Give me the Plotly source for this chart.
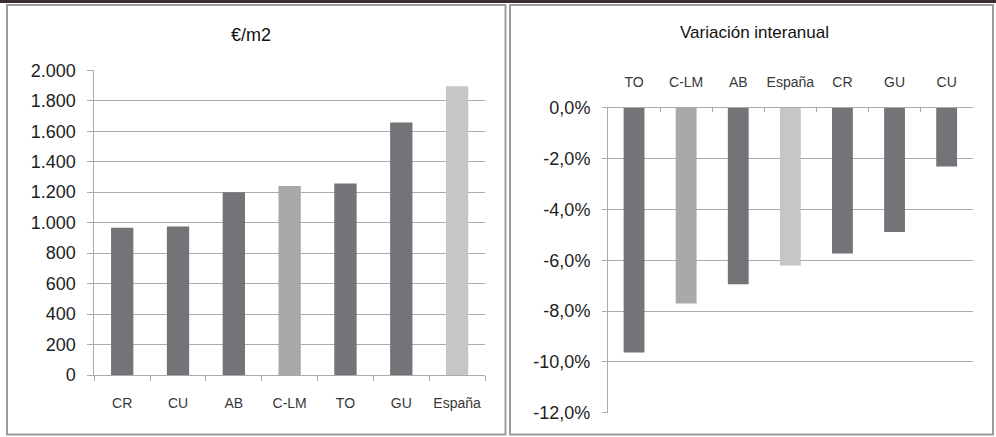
import plotly.graph_objects as go

# --- data ---
price_cats = ["CR", "CU", "AB", "C-LM", "TO", "GU", "España"]
price_vals = [967, 975, 1200, 1241, 1257, 1657, 1895]

var_cats = ["TO", "C-LM", "AB", "España", "CR", "GU", "CU"]
var_vals = [-9.63, -7.70, -6.95, -6.21, -5.74, -4.89, -2.31]  # percent

price_ticks = [0, 200, 400, 600, 800, 1000, 1200, 1400, 1600, 1800, 2000]
price_ticktext = ["0", "200", "400", "600", "800", "1.000", "1.200",
                  "1.400", "1.600", "1.800", "2.000"]
var_ticks = [0, -2, -4, -6, -8, -10, -12]
var_ticktext = ["0,0%", "-2,0%", "-4,0%", "-6,0%", "-8,0%", "-10,0%", "-12,0%"]

# colours: provinces dark, region mid grey, Spain light grey
DARK, MID, LIGHT = "#737378", "#a9a9ab", "#c6c6c6"
def bar_color(name):
    return {"C-LM": MID, "España": LIGHT}.get(name, DARK)

W, H = 996, 437
def px_x(x):
    return x / W
def px_y(y):
    return 1 - y / H

FONT = "Liberation Sans, Arial, sans-serif"
GRID = "#aaaaaa"

fig = go.Figure()
fig.add_trace(go.Bar(x=price_cats, y=price_vals,
                     marker=dict(color=[bar_color(c) for c in price_cats], line_width=0),
                     xaxis="x", yaxis="y", showlegend=False))
fig.add_trace(go.Bar(x=var_cats, y=var_vals,
                     marker=dict(color=[bar_color(c) for c in var_cats], line_width=0),
                     xaxis="x2", yaxis="y2", showlegend=False))

common_x = dict(showline=True, linecolor=GRID, linewidth=1, tickcolor=GRID,
                tickson="boundaries", tickangle=0, automargin=False,
                tickfont=dict(size=14, color="#383838"), showgrid=False)
common_y = dict(showline=True, linecolor=GRID, linewidth=1, ticks="outside",
                tickcolor=GRID, showgrid=True, gridcolor=GRID, gridwidth=1,
                zeroline=False, automargin=False,
                tickfont=dict(size=18, color="#1e1e1e"))

fig.update_layout(
    width=W, height=H,
    margin=dict(l=0, r=0, t=0, b=0, autoexpand=False),
    paper_bgcolor="white", plot_bgcolor="white",
    bargap=0.6,
    font=dict(family=FONT, color="#222"),
    xaxis=dict(domain=[px_x(94.3), px_x(485)], anchor="y",
               ticks="outside", ticklen=5, ticklabelstandoff=15, **common_x),
    yaxis=dict(domain=[px_y(375), px_y(70.3)], anchor="x", range=[0, 2000],
               tickvals=price_ticks, ticktext=price_ticktext,
               ticklen=6, ticklabelstandoff=8, **common_y),
    xaxis2=dict(domain=[px_x(608), px_x(972.7)], anchor="y2", side="top",
                ticks="inside", ticklen=4, ticklabelstandoff=14, **common_x),
    yaxis2=dict(domain=[px_y(412.7), px_y(107.7)], anchor="x2", range=[-12, 0],
                tickvals=var_ticks, ticktext=var_ticktext,
                ticklen=5, ticklabelstandoff=8, **common_y),
)

# titles
fig.add_annotation(text="€/m2", x=px_x(251), y=px_y(35), xref="paper", yref="paper",
                   xanchor="center", yanchor="middle",
                   showarrow=False, font=dict(size=18, color="#111"))
fig.add_annotation(text="Variación interanual", x=px_x(754), y=px_y(33),
                   xref="paper", yref="paper", xanchor="center", yanchor="middle",
                   showarrow=False, font=dict(size=17, color="#111"))

# panel frames and the dark rule at the top
BORDER = "#9c9c9c"
fig.add_shape(type="rect", xref="paper", yref="paper",
              x0=px_x(7), x1=px_x(505.5), y0=px_y(434.5), y1=px_y(5),
              line=dict(color=BORDER, width=2))
fig.add_shape(type="rect", xref="paper", yref="paper",
              x0=px_x(510), x1=px_x(993), y0=px_y(434.5), y1=px_y(5),
              line=dict(color=BORDER, width=2))
fig.add_shape(type="rect", xref="paper", yref="paper",
              x0=0, x1=1, y0=px_y(3), y1=1,
              line_width=0, fillcolor="#3b2b33")

# the page's default body margin would shift the figure by 8px
fig.write_html("out.html", config={"displayModeBar": False},
               post_script="document.body.style.margin='0';")
